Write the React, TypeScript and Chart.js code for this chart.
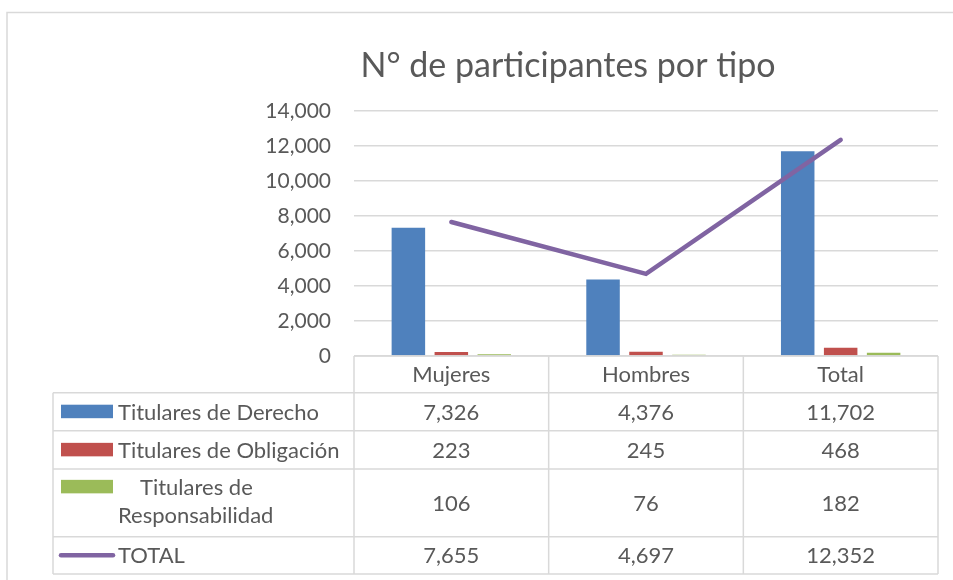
import React, { useEffect, useRef } from "react";
import { Chart, registerables } from "chart.js";

Chart.register(...registerables);

const categories = ["Mujeres", "Hombres", "Total"];
const seriesNames = [
  "Titulares de Derecho",
  "Titulares de Obligación",
  "Titulares de Responsabilidad",
  "TOTAL",
];
const derecho = [7326, 4376, 11702];
const obligacion = [223, 245, 468];
const responsabilidad = [106, 76, 182];
const totalLine = [7655, 4697, 12352];
const titleText = "N° de participantes por tipo";

const COLORS = ["#4F81BD", "#C0504D", "#9BBB59", "#8064A2"];
const FONT = "Lato, 'Open Sans', sans-serif";
const TEXT = "#595959";
const GRID = "#D9D9D9";

const fmt = (v: number) => v.toLocaleString("en-US");

const tablePlugin = {
  id: "dataTable",
  afterDraw(chart: any) {
    const ctx = chart.ctx as CanvasRenderingContext2D;
    const x = chart.scales.x;
    const area = chart.chartArea;
    const catW = (area.right - area.left) / categories.length;
    const tableLeft = 53;
    const rowHeights = [36.7, 38, 38.3, 67.7, 37.3];
    const top = area.bottom;
    const ys = [top];
    rowHeights.forEach((h) => ys.push(ys[ys.length - 1] + h));

    ctx.save();
    // outer chart border
    ctx.strokeStyle = GRID;
    ctx.lineWidth = 1.5;
    ctx.beginPath();
    ctx.moveTo(7, 580);
    ctx.lineTo(7, 12.5);
    ctx.lineTo(953, 12.5);
    ctx.stroke();

    // title
    ctx.fillStyle = TEXT;
    ctx.font = `34px ${FONT}`;
    ctx.textAlign = "center";
    ctx.textBaseline = "middle";
    ctx.fillText(titleText, 568, 66);

    // table lines
    ctx.strokeStyle = GRID;
    ctx.lineWidth = 1.5;
    ctx.beginPath();
    ctx.moveTo(area.left, ys[0]);
    ctx.lineTo(area.right, ys[0]);
    for (let i = 1; i < ys.length; i++) {
      ctx.moveTo(tableLeft, ys[i]);
      ctx.lineTo(area.right, ys[i]);
    }
    ctx.moveTo(tableLeft, ys[1]);
    ctx.lineTo(tableLeft, ys[ys.length - 1]);
    for (let c = 0; c <= categories.length; c++) {
      const xx = area.left + c * catW;
      ctx.moveTo(xx, ys[0]);
      ctx.lineTo(xx, ys[ys.length - 1]);
    }
    ctx.stroke();

    // header text
    ctx.fillStyle = TEXT;
    ctx.font = `22px ${FONT}`;
    ctx.textAlign = "center";
    ctx.textBaseline = "middle";
    categories.forEach((c, i) => {
      ctx.fillText(c, x.getPixelForValue(i), (ys[0] + ys[1]) / 2 + 1);
    });

    const datasets = chart.data.datasets;
    for (let r = 0; r < 4; r++) {
      const y0 = ys[r + 1];
      const y1 = ys[r + 2];
      const cy = (y0 + y1) / 2;
      if (r < 3) {
        ctx.fillStyle = COLORS[r];
        ctx.fillRect(61, cy - 7 - (r === 2 ? 16 : 0), 52, 13.5);
      } else {
        ctx.strokeStyle = COLORS[3];
        ctx.lineWidth = 4.5;
        ctx.lineCap = "round";
        ctx.beginPath();
        ctx.moveTo(61, cy);
        ctx.lineTo(113, cy);
        ctx.stroke();
      }
      ctx.fillStyle = TEXT;
      ctx.textAlign = "left";
      if (r === 2) {
        ctx.fillText("Titulares de", 140, cy - 15);
        ctx.fillText("Responsabilidad", 118, cy + 13);
      } else {
        ctx.fillText(seriesNames[r], 118, cy + 1);
      }
      ctx.textAlign = "center";
      const vals = datasets[r].data as number[];
      vals.forEach((v, i) => {
        ctx.fillText(fmt(v), x.getPixelForValue(i), cy + 1);
      });
    }
    ctx.restore();
  },
};

export default function App() {
  const ref = useRef<HTMLCanvasElement>(null);
  useEffect(() => {
    if (!ref.current) return;
    const chart = new Chart(ref.current, {
      type: "bar",
      data: {
        labels: categories,
        datasets: [
          { type: "bar", label: seriesNames[0], data: derecho, backgroundColor: COLORS[0], order: 2 },
          { type: "bar", label: seriesNames[1], data: obligacion, backgroundColor: COLORS[1], order: 2 },
          { type: "bar", label: seriesNames[2], data: responsabilidad, backgroundColor: COLORS[2], order: 2 },
          {
            type: "line",
            label: seriesNames[3],
            data: totalLine,
            borderColor: COLORS[3],
            backgroundColor: COLORS[3],
            borderWidth: 4.5,
            borderCapStyle: "round",
            pointRadius: 0,
            tension: 0,
            order: 1,
          } as any,
        ],
      },
      options: {
        responsive: false,
        animation: false,
        devicePixelRatio: 1,
        layout: { padding: { left: 0, right: 15, top: 111, bottom: 224 } },
        datasets: { bar: { categoryPercentage: 0.662, barPercentage: 0.78 } },
        plugins: { legend: { display: false }, tooltip: { enabled: false }, title: { display: false } },
        scales: {
          x: { display: false },
          y: {
            min: 0,
            max: 14000,
            ticks: {
              stepSize: 2000,
              color: TEXT,
              padding: 23,
              font: { family: FONT, size: 21 },
              callback: (v: any) => fmt(Number(v)),
            },
            grid: { color: GRID, lineWidth: 1.5, drawTicks: false },
            border: { display: false },
            afterFit: (s: any) => {
              s.width = 354;
            },
          },
        },
      },
      plugins: [tablePlugin],
    });
    return () => chart.destroy();
  }, []);
  return (
    <div style={{ position: "fixed", left: 0, top: 0, width: 953, height: 580, background: "#fff" }}>
      <canvas ref={ref} width={953} height={580} style={{ display: "block" }} />
    </div>
  );
}
